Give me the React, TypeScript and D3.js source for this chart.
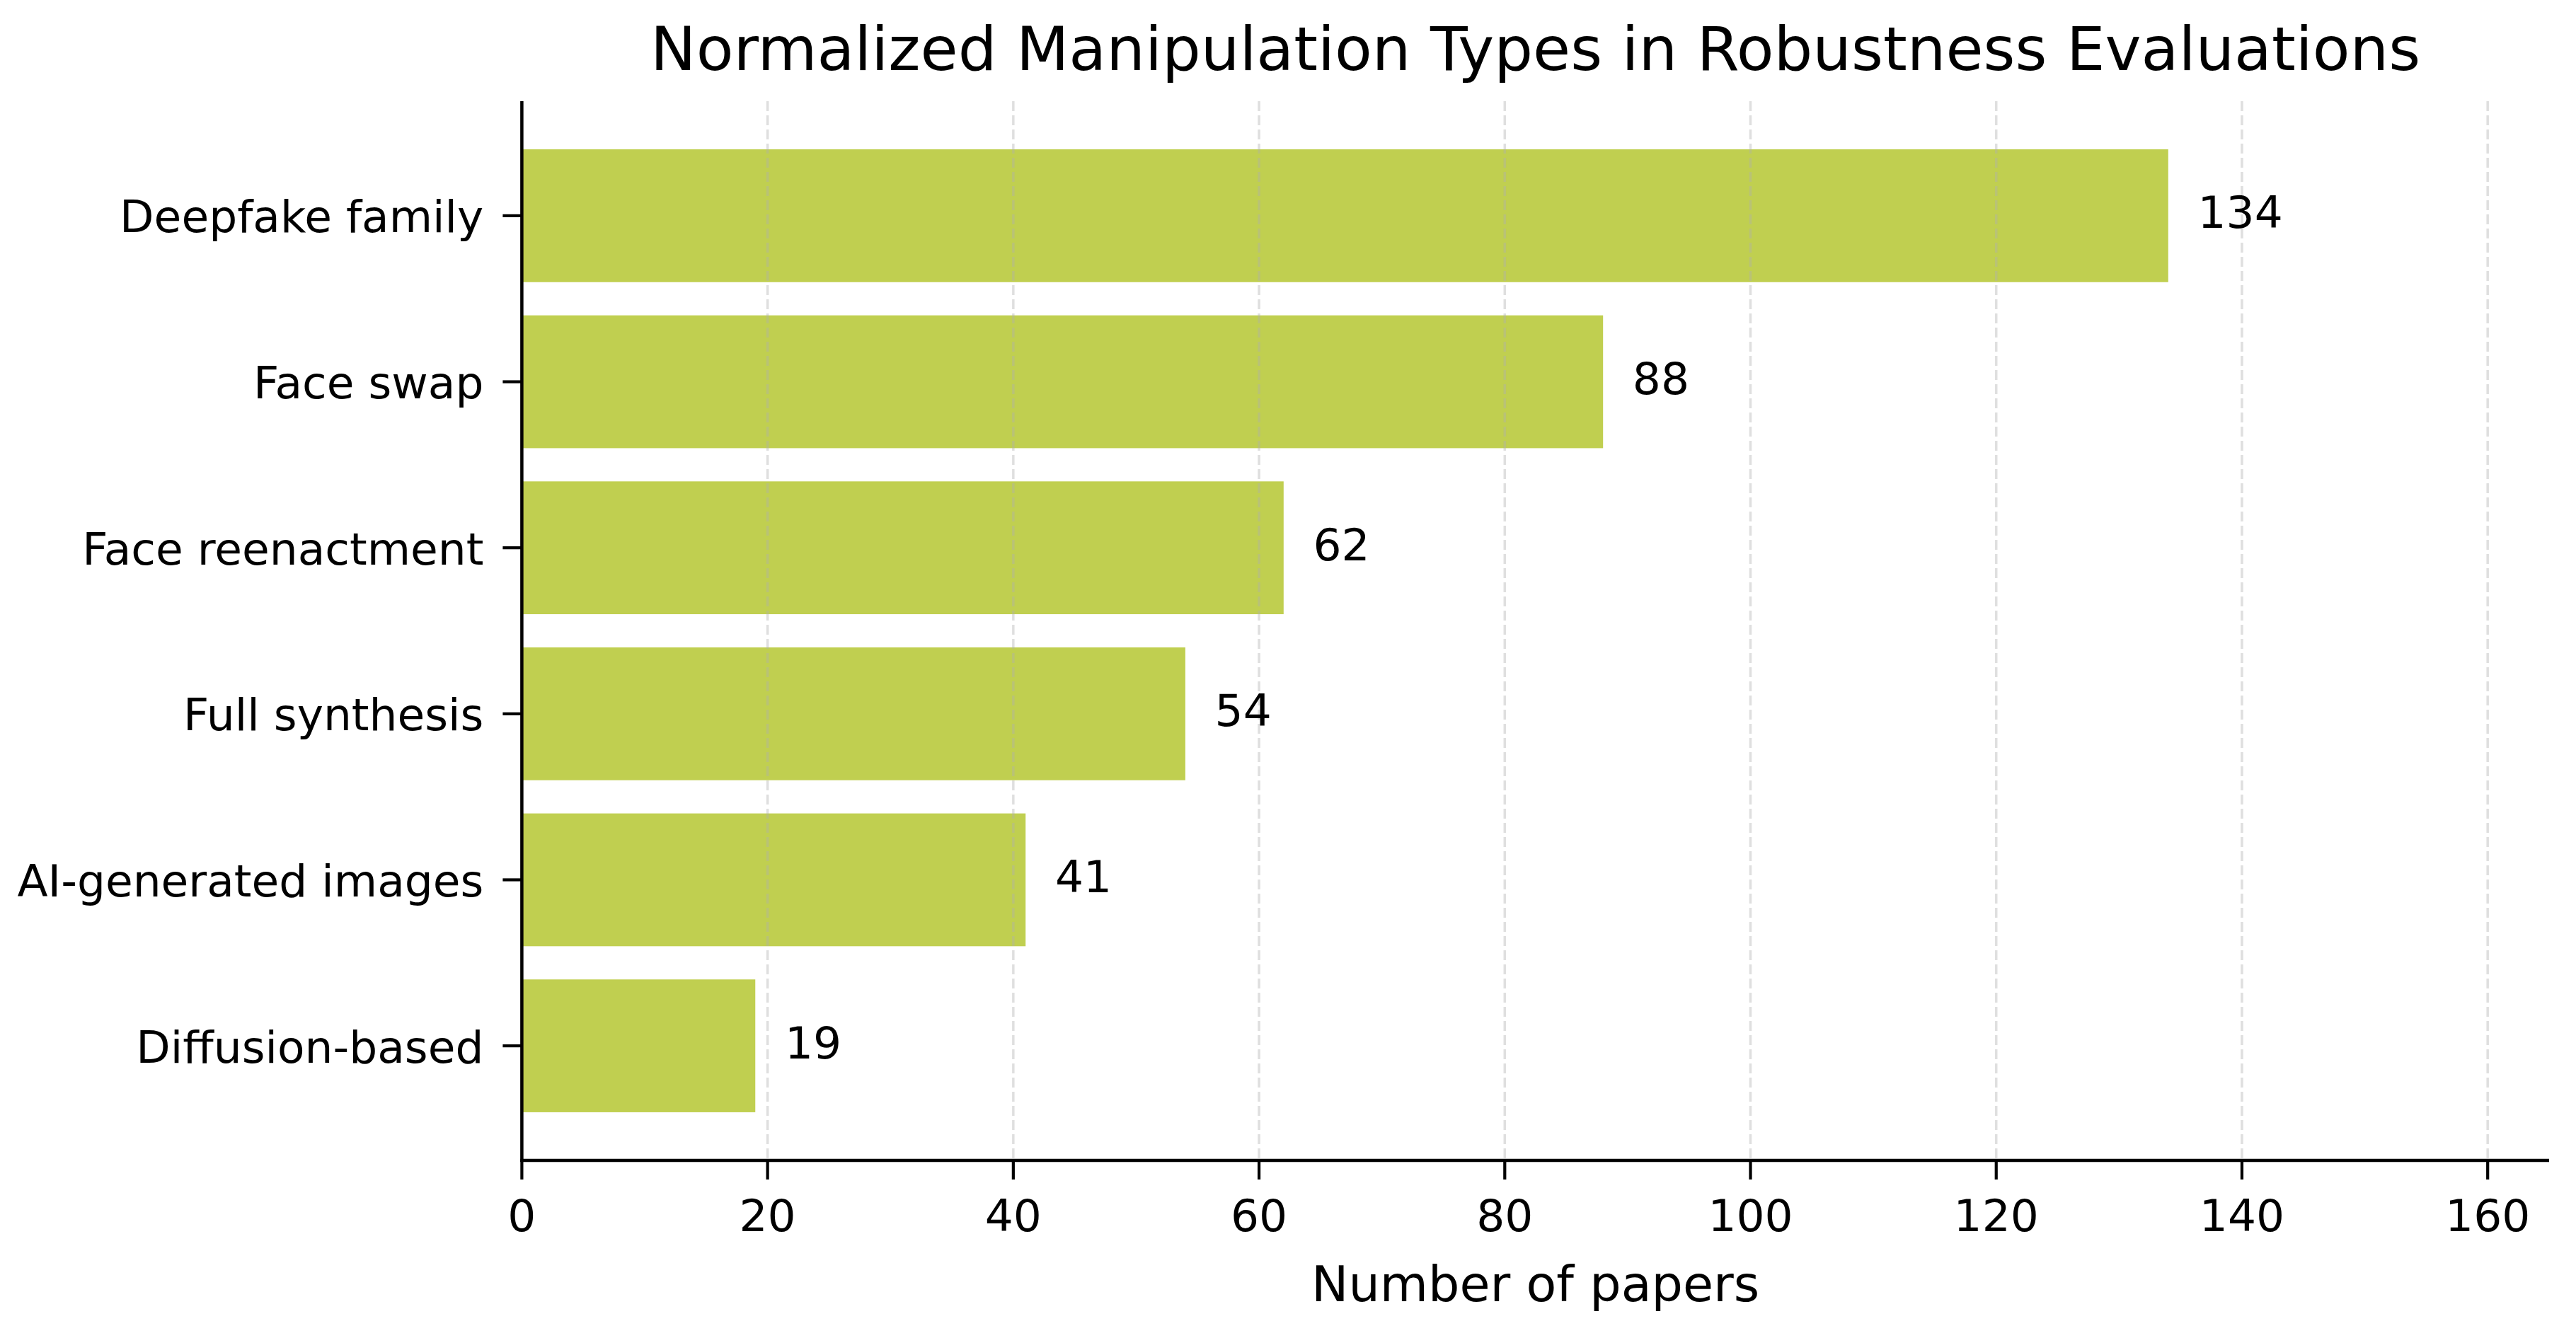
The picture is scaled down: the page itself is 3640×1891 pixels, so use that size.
import React from "react";
import * as d3 from "d3";

const categories = [
  "Deepfake family",
  "Face swap",
  "Face reenactment",
  "Full synthesis",
  "AI-generated images",
  "Diffusion-based",
];
const values = [134, 88, 62, 54, 41, 19];
const xTicks = [0, 20, 40, 60, 80, 100, 120, 140, 160];
const titleText = "Normalized Manipulation Types in Robustness Evaluations";
const xLabelText = "Number of papers";

const W = 3640;
const H = 1891;
const FONT = "'DejaVu Sans', sans-serif";

export default function App() {
  const left = 737.4;
  const right = 3602;
  const top = 143;
  const bottom = 1640;

  const x = d3.scaleLinear().domain([0, 165]).range([left, right]);
  const y = d3
    .scaleBand<string>()
    .domain(categories)
    .range([top, bottom])
    .paddingInner(0.2)
    .paddingOuter(0.29);

  const barColor = "#c0cf50";
  const labelOffset = 2.4;

  return (
    <svg
      width={W}
      height={H}
      viewBox={`0 0 ${W} ${H}`}
      style={{ position: "absolute", left: 0, top: 0, background: "#fff" }}
      fontFamily={FONT}
    >
      <rect x={0} y={0} width={W} height={H} fill="#fff" />
      {categories.map((c, i) => (
        <rect
          key={c}
          x={x(0)}
          y={y(c)!}
          width={x(values[i]) - x(0)}
          height={y.bandwidth()}
          fill={barColor}
        />
      ))}
      {xTicks
        .filter((t) => t > 0)
        .map((t) => (
          <line
            key={`g${t}`}
            x1={x(t)}
            x2={x(t)}
            y1={top}
            y2={bottom}
            stroke="#b0b0b0"
            strokeOpacity={0.4}
            strokeWidth={3.5}
            strokeDasharray="14 6"
          />
        ))}
      {categories.map((c, i) => (
        <text
          key={`v${c}`}
          x={x(values[i] + labelOffset)}
          y={y(c)! + y.bandwidth() / 2 + 17.5}
          fontSize={63}
          fill="#000"
        >
          {values[i]}
        </text>
      ))}
      <line x1={left} x2={left} y1={top} y2={bottom + 2} stroke="#000" strokeWidth={4.5} />
      <line x1={left - 2} x2={right} y1={bottom} y2={bottom} stroke="#000" strokeWidth={4.5} />
      {xTicks.map((t) => (
        <g key={`xt${t}`}>
          <line x1={x(t)} x2={x(t)} y1={bottom} y2={bottom + 27} stroke="#000" strokeWidth={4.2} />
          <text x={x(t)} y={1740.3} textAnchor="middle" fontSize={63} fill="#000">
            {t}
          </text>
        </g>
      ))}
      {categories.map((c) => {
        const cy = y(c)! + y.bandwidth() / 2;
        return (
          <g key={`yt${c}`}>
            <line x1={left - 27} x2={left} y1={cy} y2={cy} stroke="#000" strokeWidth={4.2} />
            <text x={left - 54} y={cy + 23.5} textAnchor="end" fontSize={63} fill="#000">
              {c}
            </text>
          </g>
        );
      })}
      <text x={(left + right) / 2} y={1838.7} textAnchor="middle" fontSize={70} fill="#000">
        {xLabelText}
      </text>
      <text x={(left + right) / 2} y={98.5} textAnchor="middle" fontSize={86.3} fill="#000">
        {titleText}
      </text>
    </svg>
  );
}
